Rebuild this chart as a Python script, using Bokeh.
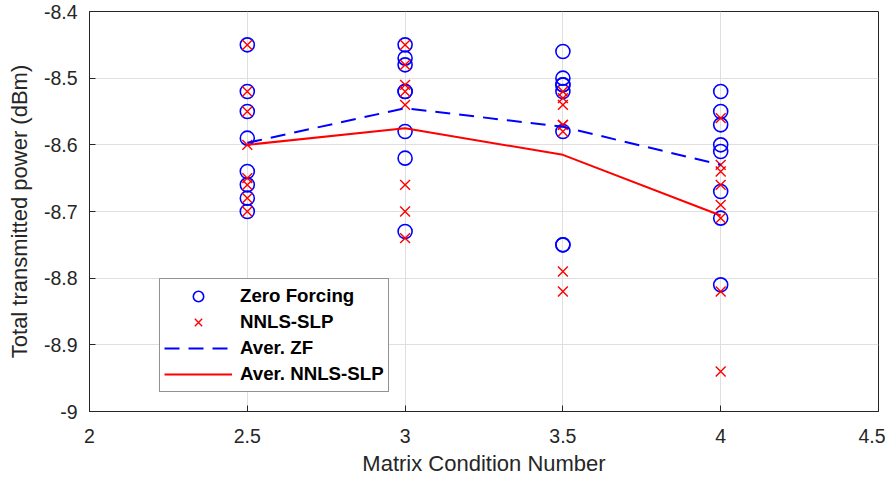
from bokeh.plotting import figure
from bokeh.models import Range1d, FixedTicker, Legend, LegendItem
from bokeh.embed import file_html
from bokeh.resources import INLINE

# Data
cond_levels = [2.5, 3.0, 3.5, 4.0]
zf_values = {
    2.5: [-8.45, -8.52, -8.55, -8.59, -8.64, -8.66, -8.68, -8.70],
    3.0: [-8.45, -8.47, -8.48, -8.52, -8.52, -8.58, -8.62, -8.73],
    3.5: [-8.46, -8.50, -8.51, -8.51, -8.52, -8.58, -8.75, -8.75],
    4.0: [-8.52, -8.55, -8.57, -8.60, -8.61, -8.67, -8.71, -8.81],
}
nnls_values = {
    2.5: [-8.45, -8.52, -8.55, -8.60, -8.65, -8.66, -8.68, -8.70],
    3.0: [-8.45, -8.48, -8.51, -8.52, -8.54, -8.66, -8.70, -8.74],
    3.5: [-8.52, -8.53, -8.54, -8.57, -8.58, -8.57, -8.79, -8.82],
    4.0: [-8.56, -8.63, -8.64, -8.66, -8.69, -8.71, -8.82, -8.94],
}
avg_zf = [-8.597, -8.545, -8.573, -8.630]
avg_nnls = [-8.600, -8.575, -8.615, -8.706]

x_ticks = [2, 2.5, 3, 3.5, 4, 4.5]
x_tick_labels = ["2", "2.5", "3", "3.5", "4", "4.5"]
y_ticks = [-9, -8.9, -8.8, -8.7, -8.6, -8.5, -8.4]
y_tick_labels = ["-9", "-8.9", "-8.8", "-8.7", "-8.6", "-8.5", "-8.4"]

FONT = "Liberation Sans"
AXC = "#262626"

p = figure(width=885, height=480, output_backend="svg", toolbar_location=None,
           x_range=Range1d(2, 4.5), y_range=Range1d(-9, -8.4),
           min_border_left=89, min_border_right=7, min_border_top=11, min_border_bottom=69)

p.background_fill_color = "white"
p.border_fill_color = "white"
p.outline_line_color = AXC
p.outline_line_width = 1

for ax, ticks, labels in ((p.xaxis[0], x_ticks, x_tick_labels), (p.yaxis[0], y_ticks, y_tick_labels)):
    ax.ticker = FixedTicker(ticks=ticks)
    ax.major_label_overrides = {t: l for t, l in zip(ticks, labels)}
    ax.major_tick_in = 6
    ax.major_tick_out = 0
    ax.minor_tick_in = 0
    ax.minor_tick_out = 0
    ax.axis_line_color = AXC
    ax.major_tick_line_color = AXC
    ax.major_label_text_font = FONT
    ax.major_label_text_font_size = "19.5px"
    ax.major_label_text_color = AXC
    ax.axis_label_text_font = FONT
    ax.axis_label_text_font_size = "22px"
    ax.axis_label_text_font_style = "normal"
    ax.axis_label_text_color = AXC

p.xaxis.axis_label = "Matrix Condition Number"
p.yaxis.axis_label = "Total transmitted power (dBm)"
p.xaxis.major_label_standoff = 17
p.yaxis.major_label_standoff = 12
p.xaxis.axis_label_standoff = 5
p.yaxis.axis_label_standoff = 9

for g in (p.xgrid[0], p.ygrid[0]):
    g.grid_line_color = "#dfdfdf"
    g.grid_line_width = 1

zx, zy, nx, ny = [], [], [], []
for c in cond_levels:
    for v in zf_values[c]:
        zx.append(c); zy.append(v)
    for v in nnls_values[c]:
        nx.append(c); ny.append(v)

r_zf = p.scatter(zx, zy, marker="circle", size=14, fill_color=None,
                 line_color="#0000ff", line_width=1.6)
r_nn = p.scatter(nx, ny, marker="x", size=14, line_color="#ff0000", line_width=1.4)
r_azf = p.line(cond_levels, avg_zf, line_color="#0000ff", line_width=2, line_dash="15 9")
r_ann = p.line(cond_levels, avg_nnls, line_color="#ff0000", line_width=2)

legend = Legend(items=[
    LegendItem(label="Zero Forcing", renderers=[r_zf]),
    LegendItem(label="NNLS-SLP", renderers=[r_nn]),
    LegendItem(label="Aver. ZF", renderers=[r_azf]),
    LegendItem(label="Aver. NNLS-SLP", renderers=[r_ann]),
], location=(70, 19))
legend.label_text_font = FONT
legend.label_text_font_size = "18.7px"
legend.label_text_font_style = "bold"
legend.label_text_color = "black"
legend.glyph_width = 68
legend.glyph_height = 26
legend.label_standoff = 8
legend.label_height = 21
legend.spacing = 0
legend.padding = 4
legend.margin = 0
legend.border_line_color = AXC
legend.border_line_width = 1
legend.background_fill_alpha = 1
p.add_layout(legend, "center")

open("out.html", "w").write(file_html(p, INLINE))
